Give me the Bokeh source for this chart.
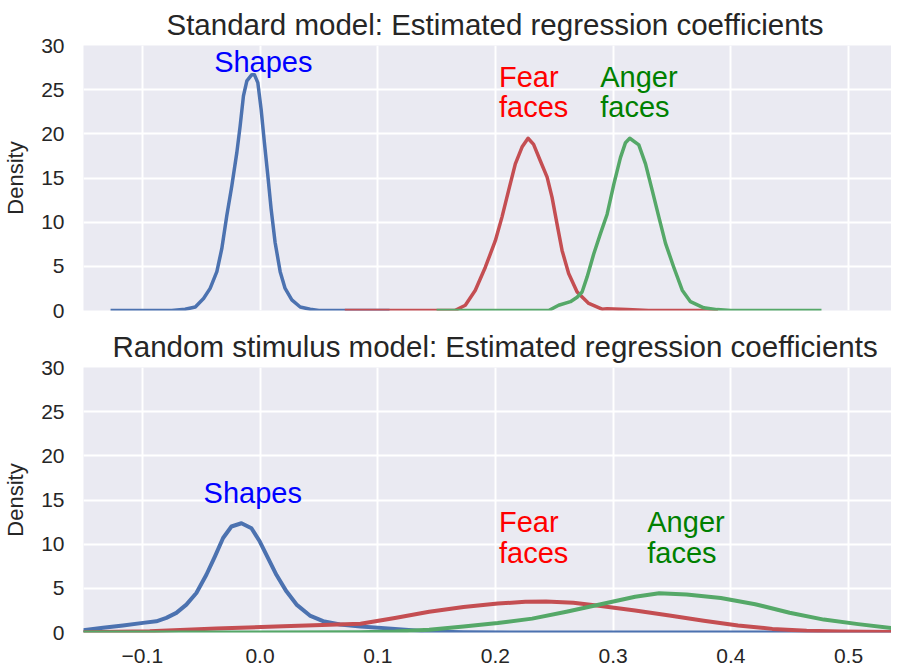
from bokeh.plotting import figure
from bokeh.layouts import column
from bokeh.models import Range1d, FixedTicker, Label
from bokeh.embed import file_html
from bokeh.resources import INLINE

FONT = "Liberation Sans"

# ---- data ----
x_ticks = [-0.1, 0.0, 0.1, 0.2, 0.3, 0.4, 0.5]
x_tick_labels = ["\u22120.1", "0.0", "0.1", "0.2", "0.3", "0.4", "0.5"]
y_ticks = [0, 5, 10, 15, 20, 25, 30]

# Standard model (KDE of estimated coefficients)
std_shapes_x = [-0.127, -0.075, -0.0637, -0.055, -0.048, -0.0424, -0.0367, -0.0325, -0.0283, -0.024,
                -0.0197, -0.0169, -0.0141, -0.0112, -0.007, -0.0048, -0.0019, 0.0009, 0.0037, 0.0066,
                0.0094, 0.0128, 0.0171, 0.0213, 0.027, 0.0341, 0.0426, 0.05, 0.11]
std_shapes_y = [0, 0, 0.15, 0.4, 1.35, 2.5, 4.4, 7.0, 10.7, 14.1,
                17.9, 20.9, 24.3, 26.0, 26.7, 26.7, 25.8, 22.8, 19.0, 15.3,
                11.5, 7.7, 4.4, 2.5, 1.2, 0.4, 0.15, 0, 0]

std_fear_x = [0.072, 0.15, 0.1659, 0.1744, 0.1829, 0.1914, 0.1999, 0.2056, 0.2112, 0.2169,
              0.2226, 0.2277, 0.2324, 0.2381, 0.2439, 0.2481, 0.2523, 0.2566, 0.2622, 0.2694,
              0.2793, 0.2906, 0.2948, 0.312, 0.33, 0.389]
std_fear_y = [0, 0, 0.03, 0.6, 2.3, 4.9, 7.9, 10.6, 13.6, 16.6,
              18.5, 19.5, 18.8, 16.95, 15.1, 12.8, 9.8, 6.8, 4.2, 2.1,
              0.8, 0.15, 0.2, 0.1, 0, 0]

std_anger_x = [0.15, 0.2452, 0.2537, 0.2637, 0.2694, 0.2736, 0.2779, 0.2835, 0.2892, 0.2949,
               0.3006, 0.3062, 0.3105, 0.3141, 0.3218, 0.3275, 0.3332, 0.3388, 0.3445, 0.3515,
               0.3587, 0.3657, 0.377, 0.3884, 0.40, 0.477]
std_anger_y = [0, 0, 0.6, 1.0, 1.5, 2.1, 3.8, 6.4, 8.7, 10.9,
               14.3, 17.3, 19.0, 19.5, 18.75, 16.6, 13.6, 10.6, 7.6, 4.9,
               2.3, 1.0, 0.3, 0.1, 0, 0]

# Random stimulus model
rnd_shapes_x = [-0.155, -0.1504, -0.1334, -0.1164, -0.0994, -0.0881, -0.0796, -0.0711, -0.0626, -0.0541,
                -0.0456, -0.0384, -0.0314, -0.0243, -0.0158, -0.0073, -0.0002, 0.0069, 0.014, 0.0224,
                0.031, 0.0423, 0.0536, 0.0679, 0.0854, 0.1146, 0.1437, 0.173, 0.25, 0.4, 0.55]
rnd_shapes_y = [0.22, 0.26, 0.53, 0.79, 1.09, 1.27, 1.66, 2.22, 3.16, 4.47,
                6.54, 8.6, 10.7, 12.0, 12.37, 11.8, 10.3, 8.4, 6.5, 4.66,
                3.16, 1.92, 1.28, 0.9, 0.68, 0.41, 0.1, 0.02, 0, 0, 0]

rnd_fear_x = [-0.155, -0.15, -0.0937, -0.0371, 0.0196, 0.0854, 0.1146, 0.1437, 0.1729, 0.202,
              0.2254, 0.2429, 0.2662, 0.2895, 0.3187, 0.3478, 0.377, 0.4061, 0.4353, 0.4644,
              0.4936, 0.55]
rnd_fear_y = [0.03, 0.04, 0.15, 0.45, 0.71, 0.98, 1.65, 2.35, 2.89, 3.28,
              3.47, 3.51, 3.36, 3.01, 2.5, 1.92, 1.34, 0.8, 0.41, 0.21,
              0.1, 0.05]

rnd_anger_x = [-0.155, 0.0, 0.0854, 0.1146, 0.1437, 0.1729, 0.202, 0.2312, 0.2603, 0.2895,
               0.3187, 0.3391, 0.3624, 0.3915, 0.4207, 0.4499, 0.479, 0.5082, 0.5426, 0.55]
rnd_anger_y = [0, 0, 0.02, 0.1, 0.3, 0.68, 1.07, 1.57, 2.35, 3.2,
               4.05, 4.44, 4.29, 3.9, 3.2, 2.23, 1.46, 0.95, 0.41, 0.35]

BLUE, RED, GREEN = "#4C72B0", "#C44E52", "#55A868"
TXT = "#262626"

x_range = Range1d(-0.15, 0.5365)


def make_fig(title, top_border, show_x, title_offset):
    p = figure(frame_width=808, frame_height=265, x_range=x_range, y_range=Range1d(0, 30),
               output_backend="svg", toolbar_location=None,
               min_border_left=75, min_border_right=0, min_border_top=top_border,
               min_border_bottom=12 if not show_x else 0, title=title)
    p.title.text_font = FONT
    p.title.text_font_size = "29.5px"
    p.title.text_font_style = "normal"
    p.title.text_color = TXT
    p.title.align = "left"
    p.title.offset = title_offset
    p.background_fill_color = "#EAEAF2"
    p.border_fill_color = "white"
    p.outline_line_color = None
    p.xgrid.ticker = FixedTicker(ticks=x_ticks)
    p.ygrid.ticker = FixedTicker(ticks=y_ticks)
    for g in (p.xgrid, p.ygrid):
        g.grid_line_color = "white"
        g.grid_line_width = 2
    ya = p.yaxis[0]
    ya.ticker = FixedTicker(ticks=y_ticks)
    ya.axis_line_color = None
    ya.major_tick_line_color = None
    ya.minor_tick_line_color = None
    ya.major_label_text_font = FONT
    ya.major_label_text_font_size = "21px"
    ya.major_label_text_color = TXT
    ya.major_label_standoff = 13
    ya.axis_label = "Density"
    ya.axis_label_text_font = FONT
    ya.axis_label_text_font_size = "22px"
    ya.axis_label_text_font_style = "normal"
    ya.axis_label_text_color = TXT
    ya.axis_label_standoff = 10
    xa = p.xaxis[0]
    if show_x:
        xa.ticker = FixedTicker(ticks=x_ticks)
        xa.major_label_overrides = {t: l for t, l in zip(x_ticks, x_tick_labels)}
        xa.axis_line_color = None
        xa.major_tick_line_color = None
        xa.minor_tick_line_color = None
        xa.major_label_text_font = FONT
        xa.major_label_text_font_size = "21px"
        xa.major_label_text_color = TXT
        xa.major_label_standoff = 10
    else:
        xa.visible = False
    return p


def add_label(p, x, y, text, color):
    p.add_layout(Label(x=x, y=y, text=text, text_color=color, text_font=FONT,
                       text_font_size="29px", text_baseline="top", text_align="left",
                       text_line_height=0.95))


p1 = make_fig("Standard model: Estimated regression coefficients", 38, False, 83)
for xs, ys, c in ((std_shapes_x, std_shapes_y, BLUE), (std_fear_x, std_fear_y, RED),
                  (std_anger_x, std_anger_y, GREEN)):
    p1.line(xs, ys, line_color=c, line_width=3.5, line_join="round")
add_label(p1, -0.039, 29.9, "Shapes", "#0000FF")
add_label(p1, 0.203, 28.3, "Fear\nfaces", "#FF0000")
add_label(p1, 0.289, 28.3, "Anger\nfaces", "#008000")

p2 = make_fig("Random stimulus model: Estimated regression coefficients", 43, True, 29)
for xs, ys, c in ((rnd_shapes_x, rnd_shapes_y, BLUE), (rnd_fear_x, rnd_fear_y, RED),
                  (rnd_anger_x, rnd_anger_y, GREEN)):
    p2.line(xs, ys, line_color=c, line_width=4, line_join="round")
add_label(p2, -0.048, 17.6, "Shapes", "#0000FF")
add_label(p2, 0.203, 14.3, "Fear\nfaces", "#FF0000")
add_label(p2, 0.329, 14.3, "Anger\nfaces", "#008000")

layout = column(p1, p2)
open("out.html", "w").write(file_html(layout, INLINE))
